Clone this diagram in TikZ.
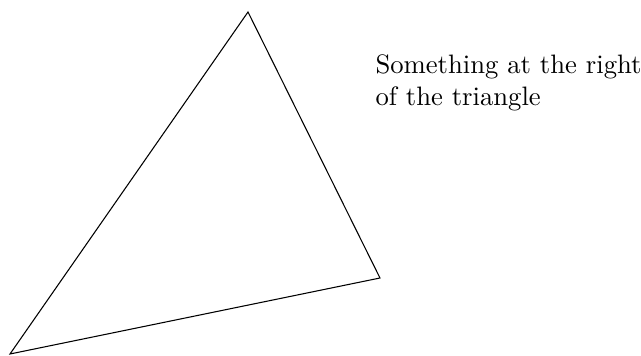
\documentclass[tikz,border=0pt]{standalone}
\usepackage{tikz}
\usetikzlibrary{positioning}

\begin{document}
\begin{tikzpicture}[
    x=0.375pt, y=-0.375pt,
    edge/.style={draw=black, line join=miter},
    note/.style={align=left, inner sep=0pt, anchor=north west, font=\normalsize}
]
    \useasboundingbox (0,0) rectangle (641,356);

    % Triangle corners
    \coordinate (left) at (10,354);
    \coordinate (top) at (248,12);
    \coordinate (right) at (380,278);

    % Triangle
    \draw[edge] (left) -- (top) -- (right) -- cycle;

    % Text beside it
    \node[note] (remark) at (375,54.5) {Something at the right\\of the triangle};

\end{tikzpicture}
\end{document}
